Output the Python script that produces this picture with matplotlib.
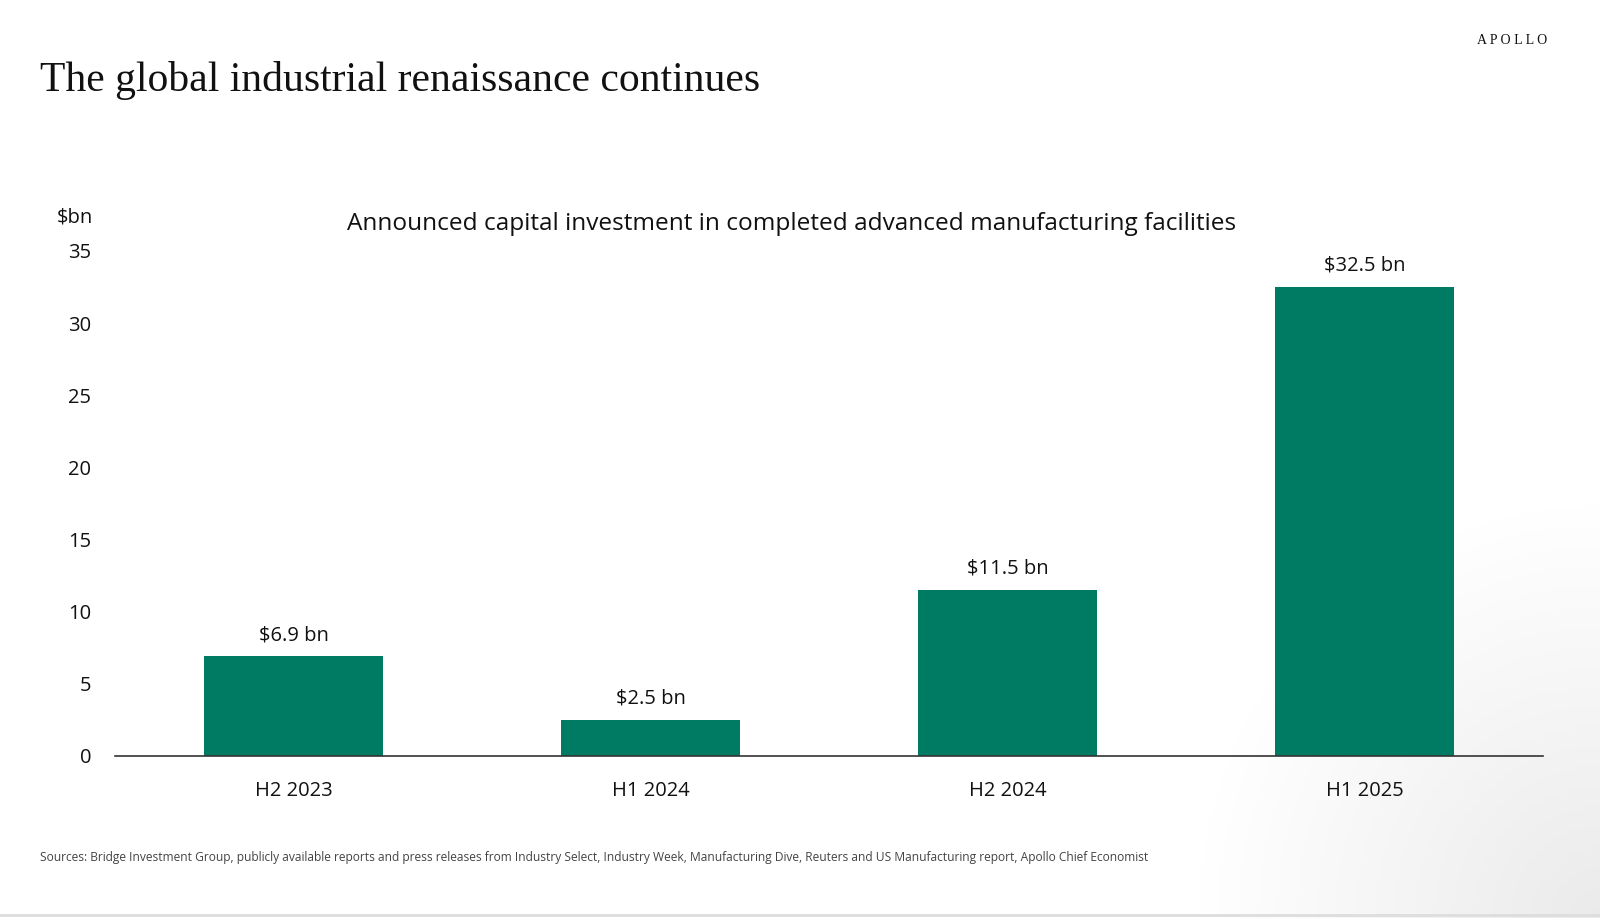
import numpy as np
import matplotlib.pyplot as plt

periods = ["H2 2023", "H1 2024", "H2 2024", "H1 2025"]
investment = [6.9, 2.5, 11.5, 32.5]
value_labels = ["$6.9 bn", "$2.5 bn", "$11.5 bn", "$32.5 bn"]
y_ticks = [0, 5, 10, 15, 20, 25, 30, 35]

GREEN = "#007B63"
SANS = ["Open Sans", "DejaVu Sans"]
SERIF = ["Liberation Serif", "DejaVu Serif"]

fig = plt.figure(figsize=(16, 9.18), dpi=100)

# faint grey shading in the lower right corner of the slide
bg = fig.add_axes([0, 0, 1, 1], zorder=-1)
gx, gy = np.meshgrid(np.linspace(0, 1, 400), np.linspace(0, 1, 230))
dist = np.sqrt(((1 - gx) / 0.25) ** 2 + (gy / 0.45) ** 2)
shade = 1 - 0.08 * np.clip(1 - dist, 0, 1)
bg.imshow(np.dstack([shade] * 3), extent=[0, 1, 0, 1], aspect="auto", origin="lower")
bg.axhline(0.003, color="#dddddd", lw=2)
bg.set_xlim(0, 1)
bg.set_ylim(0, 1)
bg.axis("off")

ax = fig.add_axes([0.0719, 0.1765, 0.8925, 0.5501])
ax.patch.set_alpha(0)

x = range(len(periods))
ax.bar(x, investment, width=0.5, color=GREEN, zorder=2)
for xi, v, lab in zip(x, investment, value_labels):
    ax.annotate(lab, (xi, v), xytext=(0, 8), textcoords="offset points",
                ha="center", va="bottom", fontsize=14.5, family=SANS, color="#111111")

ax.set_xlim(-0.5, 3.5)
ax.set_ylim(0, 35)
ax.set_xticks(list(x))
ax.set_xticklabels(periods, family=SANS, fontsize=14.5, color="#111111")
ax.set_yticks(y_ticks)
ax.set_yticklabels([str(t) for t in y_ticks], family=SANS, fontsize=14.5, color="#111111")
ax.tick_params(axis="both", length=0)
ax.tick_params(axis="x", pad=18)
ax.tick_params(axis="y", pad=17)
for s in ["top", "right", "left"]:
    ax.spines[s].set_visible(False)
ax.spines["bottom"].set_color("#333333")
ax.spines["bottom"].set_linewidth(1.2)

fig.text(0.0356, 1 - 218 / 918, "$bn", family=SANS, fontsize=14.5, va="center", ha="left", color="#111111")
fig.text(0.495, 1 - 224 / 918, "Announced capital investment in completed advanced manufacturing facilities",
         family=SANS, fontsize=17.6, ha="center", va="center", color="#111111")
fig.text(0.025, 1 - 80 / 918, "The global industrial renaissance continues",
         family=SERIF, fontsize=30, ha="left", va="center", color="#111111")
fig.text(0.967, 1 - 40 / 918, "A P O L L O", family=SERIF, fontsize=10,
         ha="right", va="center", color="#111111")
fig.text(0.025, 1 - 857 / 918,
         "Sources: Bridge Investment Group, publicly available reports and press releases from Industry Select, "
         "Industry Week, Manufacturing Dive, Reuters and US Manufacturing report, Apollo Chief Economist",
         family=SANS, fontsize=8.65, ha="left", va="center", color="#444444")

fig.savefig("out.png", dpi=100)
